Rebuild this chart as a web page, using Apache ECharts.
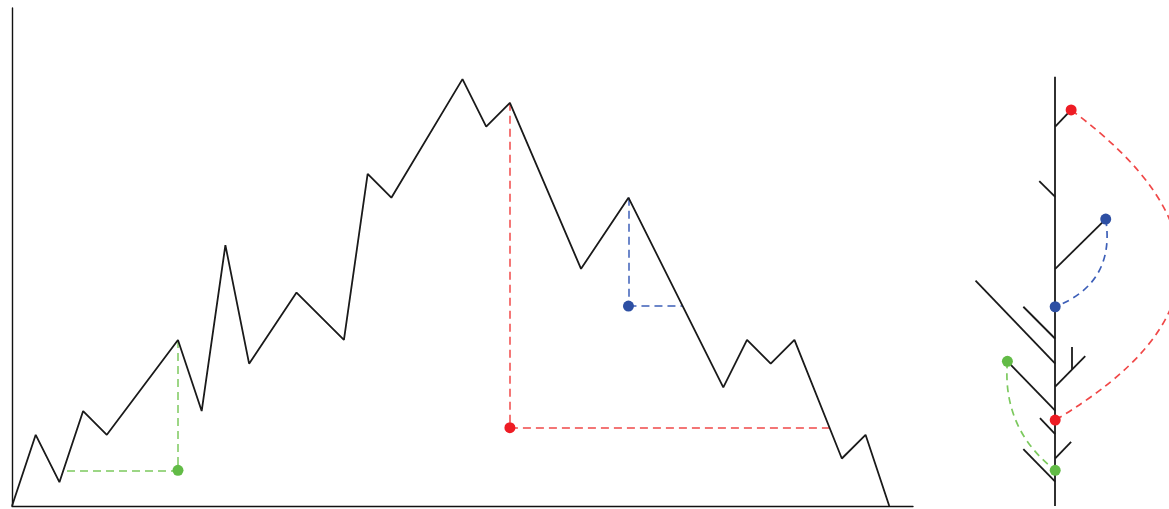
<!DOCTYPE html>
<html>
<head>
<meta charset="utf-8">
<script src="https://cdn.jsdelivr.net/npm/echarts@6/dist/echarts.min.js"></script>
<style>html,body{margin:0;padding:0;background:#fff}#c{width:1169px;height:509px}</style>
</head>
<body>
<div id="c"></div>
<script>
// Function (piecewise-linear signal): positions and heights
const fx = [0,1,2,3,4,7,8,9,10,12,14,15,16,19,20,21,24,26,30,31,32,33,35,36,37];
const fy = [0,3,1,4,3,7,4,11,6,9,7,14,13,18,16,17,10,13,5,7,6,7,2,3,0];

// Persistence pairs on the signal: [x, y] points
const greenPoint = [7, 1.5];
const redPoint = [21, 3.3];
const bluePoint = [26, 8.43];
// Dashed guides on the signal: [x1, y1, x2, y2]
const greenGuides = [[7,7,7,1.5],[2.32,1.5,7,1.5]];
const redGuides = [[21,17,21,3.3],[21,3.3,34.48,3.3]];
const blueGuides = [[26,13,26,8.43],[26,8.43,28.29,8.43]];

// Merge tree: segments [x1, y1, x2, y2] (x relative to trunk, y = level)
const treeSegments = [
  [0,0,0,18.1],
  [0,16,0.7,16.7],
  [-0.7,13.7,0,13.03],
  [0,10,2.22,12.1],
  [-3.5,9.5,0,6],
  [-1.4,8.4,0,7.05],
  [0,5.03,1.32,6.32],
  [0.73,5.76,0.73,6.7],
  [-2.1,6.1,0,4.02],
  [-0.67,3.7,0,3.03],
  [0,2.01,0.7,2.7],
  [-1.4,2.4,0,1.02]
];
// Tree nodes and arcs: [x1, y1, x2, y2, curveness]
const treeRed = [[0.7,16.7],[0,3.62]];
const treeBlue = [[2.22,12.1],[0,8.4]];
const treeGreen = [[-2.1,6.1],[0,1.5]];
const treeArcs = {
  red: [0.7,16.7,0,3.62,0.75],
  blue: [2.22,12.1,0,8.4,0.4],
  green: [-2.1,6.1,0,1.5,-0.27]
};

const RED='#ee1c24', RED_D='#f04848';
const BLUE='#2d4fa3', BLUE_D='#3d5fb8';
const GREEN='#62bb46', GREEN_D='#7cc95e';

function segs(arr){ return arr.map(s => ({coords:[[s[0],s[1]],[s[2],s[3]]]})); }
function dashSeries(arr, color, gi){
  return {type:'lines', coordinateSystem:'cartesian2d', xAxisIndex:gi, yAxisIndex:gi, polyline:false,
    lineStyle:{color:color, width:1.5, type:[8,5], opacity:1}, data:segs(arr), z:2, silent:true};
}
function arcSeries(a, color){
  return {type:'lines', coordinateSystem:'cartesian2d', xAxisIndex:1, yAxisIndex:1, polyline:false,
    lineStyle:{color:color, width:1.7, type:[7,5], opacity:1},
    data:[{coords:[[a[0],a[1]],[a[2],a[3]]], lineStyle:{curveness:a[4]}}], z:2, silent:true};
}
function pts(arr, color, gi){
  return {type:'scatter', xAxisIndex:gi, yAxisIndex:gi, symbolSize:11, itemStyle:{color:color, opacity:1},
    data:arr, z:5, silent:true};
}

const unit = 23.71;
const chart = echarts.init(document.getElementById('c'), null, {renderer:'canvas'});
chart.setOption({
  animation:false,
  backgroundColor:'#fff',
  grid:[
    {left:12, top:8, width:38*unit, height:21*unit},
    {left:1059-4*unit, top:8, width:9*unit, height:21*unit}
  ],
  xAxis:[
    {type:'value', gridIndex:0, min:0, max:38, axisLine:{show:true, onZero:false, lineStyle:{color:'#111', width:1.4}},
      axisTick:{show:false}, axisLabel:{show:false}, splitLine:{show:false}},
    {type:'value', gridIndex:1, min:-4, max:5, show:false}
  ],
  yAxis:[
    {type:'value', gridIndex:0, min:0, max:21, axisLine:{show:true, onZero:false, lineStyle:{color:'#111', width:1.4}},
      axisTick:{show:false}, axisLabel:{show:false}, splitLine:{show:false}},
    {type:'value', gridIndex:1, min:0, max:21, show:false}
  ],
  series:[
    dashSeries(greenGuides, GREEN_D, 0),
    dashSeries(redGuides, RED_D, 0),
    dashSeries(blueGuides, BLUE_D, 0),
    {type:'line', xAxisIndex:0, yAxisIndex:0, data:fx.map((x,i)=>[x,fy[i]]), showSymbol:false,
      lineStyle:{color:'#1a1a1a', width:1.8}, z:3, silent:true},
    pts([greenPoint], GREEN, 0),
    pts([redPoint], RED, 0),
    pts([bluePoint], BLUE, 0),
    {type:'lines', coordinateSystem:'cartesian2d', xAxisIndex:1, yAxisIndex:1, polyline:false,
      lineStyle:{color:'#1a1a1a', width:1.8, opacity:1}, data:segs(treeSegments), z:3, silent:true},
    arcSeries(treeArcs.red, RED_D),
    arcSeries(treeArcs.blue, BLUE_D),
    arcSeries(treeArcs.green, GREEN_D),
    pts(treeRed, RED, 1),
    pts(treeBlue, BLUE, 1),
    pts(treeGreen, GREEN, 1)
  ]
});
</script>
</body>
</html>
